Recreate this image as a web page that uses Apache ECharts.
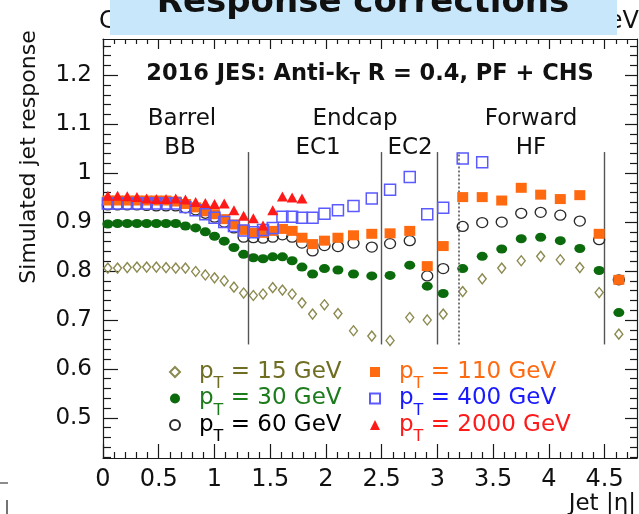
<!DOCTYPE html>
<html><head><meta charset="utf-8">
<script src="https://cdn.jsdelivr.net/npm/echarts@6/dist/echarts.min.js"></script>
<style>html,body{margin:0;padding:0;background:#fff;}#c{width:639px;height:514px;}</style>
</head><body><div id="c"></div>
<script>
// ---- data ----
const etaBins = [0.0435,0.1305,0.2175,0.3045,0.3915,0.4785,0.5655,0.6525,0.7395,0.831,0.918,1.0005,1.0875,1.1745,1.2615,1.3485,1.4355,1.5225,1.6095,1.6965,1.785,1.88,1.9865,2.1075,2.247,2.411,2.575,2.7515,2.9085,3.0515,3.2265,3.4015,3.5765,3.7515,3.926,4.102,4.277,4.4505,4.627];
const s15 = [0.806,0.806,0.807,0.808,0.808,0.808,0.807,0.806,0.806,0.799,0.792,0.786,0.780,0.767,0.755,0.750,0.753,0.766,0.761,0.753,0.735,0.712,0.731,0.713,0.678,0.667,0.658,0.705,0.700,0.712,0.758,0.784,0.806,0.821,0.830,0.823,0.807,0.756,0.671];
const s30 = [0.896,0.897,0.897,0.897,0.897,0.897,0.897,0.897,0.892,0.888,0.880,0.871,0.861,0.848,0.834,0.827,0.825,0.829,0.829,0.821,0.808,0.794,0.805,0.802,0.794,0.790,0.791,0.812,0.769,0.754,0.805,0.830,0.845,0.866,0.869,0.862,0.846,0.801,0.715];
const s60 = [0.935,0.935,0.935,0.935,0.934,0.933,0.933,0.933,0.929,0.925,0.918,0.910,0.900,0.888,0.869,0.868,0.867,0.869,0.874,0.869,0.857,0.841,0.852,0.850,0.857,0.849,0.856,0.862,0.790,0.805,0.891,0.899,0.900,0.918,0.920,0.914,0.902,0.864,0.782];
const s110 = [0.944,0.944,0.944,0.944,0.944,0.944,0.944,0.942,0.937,0.930,0.922,0.916,0.906,0.895,0.884,0.878,0.878,0.882,0.886,0.882,0.868,0.855,0.862,0.868,0.873,0.876,0.877,0.882,0.810,0.851,0.951,0.951,0.944,0.970,0.956,0.947,0.955,0.876,0.782];
const s400 = [0.938,0.938,0.938,0.938,0.938,0.938,0.938,0.938,0.931,0.924,0.916,0.909,0.900,0.892,0.883,0.879,0.884,0.888,0.911,0.911,0.909,0.909,0.917,0.924,0.933,0.948,0.966,0.992,0.916,0.929,1.030,1.022,null,null,null,null,null,null,null];
const s2000 = [0.954,0.954,0.953,0.951,0.948,0.947,0.947,0.948,0.946,0.941,0.939,0.937,0.938,0.924,0.913,0.908,0.893,0.924,0.952,0.950,0.948,null,null,null,null,null,null,null,null,null,null,null,null,null,null,null,null,null,null];
const seriesNames = ['15 GeV','30 GeV','60 GeV','110 GeV','400 GeV','2000 GeV'];
const seriesValues = [s15,s30,s60,s110,s400,s2000];
const xMajorTicks = [0,0.5,1,1.5,2,2.5,3,3.5,4,4.5];
const yMajorTicks = [0.5,0.6,0.7,0.8,0.9,1.0,1.1,1.2];
const regionLines = [1.305,2.5,3.0,3.19,4.5];
const regionLabels = ['Barrel','BB','Endcap','EC1','EC2','Forward','HF'];

// ---- helpers ----
function minors(lo, hi, step, majors){
  const out=[]; const n=Math.round((hi-lo)/step);
  for(let i=0;i<=n;i++){const v=Math.round((lo+i*step)*1000)/1000; if(!majors.some(m=>Math.abs(m-v)<1e-6)) out.push(v);}
  return out;
}
const xMinorTicks = minors(0,4.7,0.1,xMajorTicks);
const yMinorTicks = minors(0.42,1.26,0.02,yMajorTicks);

const FONT = "'DejaVu Sans', sans-serif";
const AX = '#1a1a1a';
const X_MAX = 4.79, Y_MIN = 0.418, Y_MAX = 1.274;
const LINE_LO = 0.65, LINE_HI = 1.043;

const styles = [
  {symbol:'diamond', size:[8,10], fill:'rgba(255,255,255,0)', stroke:'#8c8a50', bw:1.4, text:'#6f6d22'},
  {symbol:'circle', size:[11,9], fill:'#0b6a0b', stroke:'#0b6a0b', bw:0, text:'#1c7c1c'},
  {symbol:'circle', size:[11,10], fill:'rgba(255,255,255,0)', stroke:'#2a2a2a', bw:1.3, text:'#000000'},
  {symbol:'rect', size:[11,10], fill:'#ff6a10', stroke:'#ff6a10', bw:0, text:'#ff6a10'},
  {symbol:'rect', size:[11,11], fill:'rgba(255,255,255,0)', stroke:'#5a5aff', bw:1.5, text:'#1a1aff'},
  {symbol:'triangle', size:[11,10], fill:'#ff1a1a', stroke:'#ff1a1a', bw:0, text:'#ff1a1a'}
];

function pts(vals){ return etaBins.map((x,i)=> vals[i]==null ? null : [x, vals[i]]).filter(Boolean); }

function axis(dim, pos, ticks, len, showLine, labels){
  const a = {
    type:'value', position:pos,
    min: dim==='x'?0:Y_MIN, max: dim==='x'?X_MAX:Y_MAX,
    axisLine:{show:showLine, onZero:false, lineStyle:{color:AX,width:1.2}},
    axisTick:{show:true, inside:true, length:len, customValues:ticks, lineStyle:{color:AX,width:1.2}},
    axisLabel:{show:!!labels},
    splitLine:{show:false}
  };
  if(labels){
    a.axisLabel = {show:true, customValues:ticks, margin: dim==='x'?10:11,
      fontSize: dim==='x'?24:23, fontFamily:FONT, color:'#111',
      formatter: v => String(Math.round(v*10)/10)};
  }
  return a;
}

const legendRich = {
  g:{width:14},
  p:{fontSize:23, fontFamily:FONT, lineHeight:24},
  s:{fontSize:16, fontFamily:FONT, lineHeight:16, verticalAlign:'top', padding:[16,0,0,0]},
  r:{fontSize:23, fontFamily:FONT, lineHeight:24}
};
function legendCfg(idxs, left){
  return {
    show:true, orient:'vertical', left:left, top:360, padding:0,
    itemWidth:10, itemHeight:10, itemGap:-5.5, selectedMode:false,
    data: idxs.map(i=>({name:seriesNames[i], textStyle:{color:styles[i].text}})),
    formatter: n => '{g| }{p|p}{s|T}{r| = ' + n + '}',
    textStyle:{fontFamily:FONT, fontSize:23, rich:legendRich}
  };
}

const series = seriesNames.map((n,i)=>({
  name:n, type:'scatter', data:pts(seriesValues[i]),
  symbol:styles[i].symbol, symbolSize:styles[i].size,
  itemStyle:{color:styles[i].fill, borderColor:styles[i].stroke, borderWidth:styles[i].bw, opacity:1},
  xAxisIndex:0, yAxisIndex:0, z:3+i
}));
series.unshift({
  name:'lines', type:'scatter', data:[], xAxisIndex:0, yAxisIndex:0, z:2,
  markLine:{silent:true, symbol:['none','none'], animation:false, label:{show:false},
    data: regionLines.map((x,i)=>[
      {coord:[x,LINE_LO], lineStyle:{color: i===3?'#777':'#555', width: i===3?2:1.4, type: i===3?'dotted':'solid'}},
      {coord:[x,LINE_HI]}
    ])}
});

function txt(text, x, y, size, opts){
  opts = opts||{};
  return {type:'text', x:x, y:y, rotation:opts.rot||0, z:opts.z||10,
    style:{text:text, x:0, y:0, fill:opts.fill||'#111',
      font:(opts.bold?'bold ':'')+size+'px '+FONT,
      align:opts.align||'center', verticalAlign:opts.va||'middle',
      textAlign:opts.align||'center', textVerticalAlign:opts.va||'middle'}};
}

const graphic = [
  txt('C', 99, 22, 24, {align:'left', z:1}),
  txt('eV', 639, 22, 24, {align:'right', z:1}),
  {type:'rect', z:5, shape:{x:110,y:0,width:507,height:35}, style:{fill:'#c9e7fa'}},
  txt('Response corrections', 363, 3, 34, {bold:true, z:6}),
  txt('Simulated jet response', 29, 157, 22, {rot:Math.PI/2}),
  txt('Jet |\u03b7|', 636, 504, 23, {align:'right'}),
  {type:'text', x:370, y:74, z:10, style:{
    text:'{b|2016 JES: Anti-k}{s|T}{b| R = 0.4, PF + CHS}',
    align:'center', verticalAlign:'middle', textAlign:'center', textVerticalAlign:'middle', fill:'#111',
    rich:{
      b:{fontSize:22.5, fontWeight:'bold', fontFamily:FONT, lineHeight:22, fill:'#111'},
      s:{fontSize:15, fontWeight:'bold', fontFamily:FONT, lineHeight:14, verticalAlign:'top', padding:[10,0,0,0], fill:'#111'}
    }}},
  txt(regionLabels[0], 182, 119, 23),
  txt(regionLabels[1], 180, 148, 23),
  txt(regionLabels[2], 355, 119, 23),
  txt(regionLabels[3], 318, 148, 23),
  txt(regionLabels[4], 410, 148, 23),
  txt(regionLabels[5], 531, 119, 23),
  txt(regionLabels[6], 531, 148, 23),
  {type:'line', shape:{x1:0,y1:483,x2:8,y2:483}, style:{stroke:'#666',lineWidth:1.5}},
  {type:'line', shape:{x1:7,y1:500,x2:7,y2:514}, style:{stroke:'#444',lineWidth:1.5}}
];

const option = {
  animation:false,
  backgroundColor:'#ffffff',
  grid:{left:103, right:2, top:39, bottom:56, containLabel:false},
  xAxis:[
    axis('x','bottom',xMajorTicks,14,true,true),
    axis('x','bottom',xMinorTicks,6,false,false),
    axis('x','top',xMajorTicks,10,true,false),
    axis('x','top',xMinorTicks,5,false,false)
  ],
  yAxis:[
    axis('y','left',yMajorTicks,15,true,true),
    axis('y','left',yMinorTicks,8,false,false),
    axis('y','right',yMajorTicks,12,true,false),
    axis('y','right',yMinorTicks,7,false,false)
  ],
  legend:[legendCfg([0,1,2],169), legendCfg([3,4,5],369)],
  series: series,
  graphic: graphic
};
const chart = echarts.init(document.getElementById('c'));
chart.setOption(option);
</script>
</body></html>
